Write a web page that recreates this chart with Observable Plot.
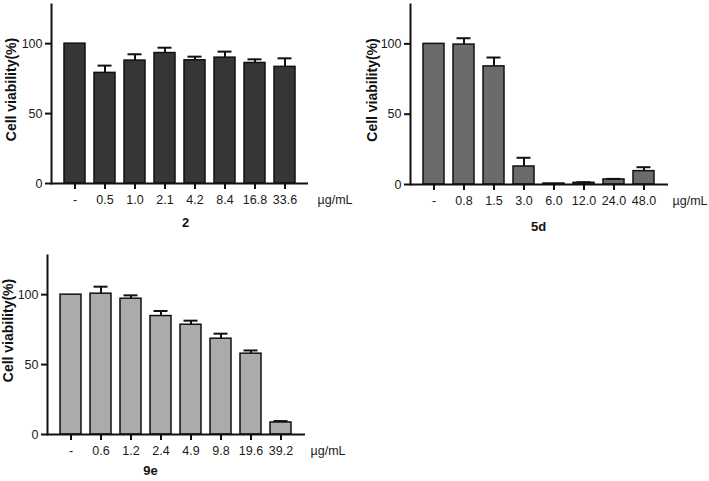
<!DOCTYPE html>
<html>
<head>
<meta charset="utf-8">
<script src="https://cdn.jsdelivr.net/npm/d3@7"></script>
<script src="https://cdn.jsdelivr.net/npm/@observablehq/plot@0.6"></script>
<style>
  html, body { margin: 0; padding: 0; background: #fff; }
  #wrap { position: relative; width: 709px; height: 481px; overflow: hidden; background: #fff; }
  #wrap svg { position: absolute; }
</style>
</head>
<body>
<div id="wrap"></div>
<script>
const yLabel = "Cell viability(%)";
const unitLabel = "µg/mL";
const yTicks = [0, 50, 100];

const conc2 = ["-", "0.5", "1.0", "2.1", "4.2", "8.4", "16.8", "33.6"];
const via2 = [100, 79.1, 87.9, 93.3, 88.1, 90.0, 86.2, 83.4];
const err2 = [0, 5.2, 4.5, 3.8, 2.6, 4.3, 2.6, 6.1];

const conc5d = ["-", "0.8", "1.5", "3.0", "6.0", "12.0", "24.0", "48.0"];
const via5d = [100, 99.5, 84.0, 12.8, 0.7, 1.2, 3.6, 9.5];
const err5d = [0, 4.5, 6.3, 6.2, 0, 0.4, 0.4, 2.8];

const conc9e = ["-", "0.6", "1.2", "2.4", "4.9", "9.8", "19.6", "39.2"];
const via9e = [100, 100.7, 97.1, 84.7, 78.5, 68.5, 57.8, 8.6];
const err9e = [0, 5.0, 2.4, 3.6, 2.9, 3.6, 2.3, 1.0];

function panel(o) {
  const data = o.cats.map((c, i) => ({c, v: o.vals[i], e: o.errs[i]}));
  const errData = data.filter(d => d.e > 0);
  const svg = Plot.plot({
    width: o.W, height: o.H,
    marginLeft: o.ml, marginRight: o.mr, marginTop: o.mt, marginBottom: o.mb,
    style: {fontFamily: "'Liberation Sans', Arial, sans-serif", fontSize: "12px", color: "#111", background: "transparent", overflow: "visible"},
    x: {domain: o.cats, paddingInner: 0.29, paddingOuter: 0.31},
    y: {domain: [0, 128]},
    marks: [
      Plot.barY(data, {x: "c", y: "v", fill: o.fill, stroke: "#111", strokeWidth: 1.5}),
      Plot.ruleX(errData, {x: "c", y1: "v", y2: d => d.v + d.e, stroke: "#111", strokeWidth: 2}),
      Plot.tickY(errData, {x: "c", y: d => d.v + d.e, stroke: "#111", strokeWidth: 2, insetLeft: 3.5, insetRight: 3.5}),
      Plot.axisX({tickSize: 6, tickPadding: 6, strokeWidth: 2, label: null, fontSize: 12.5, fill: "#1a1a1a"}),
      Plot.axisY({ticks: yTicks, tickSize: 6, tickPadding: 3, strokeWidth: 2, label: null, fontSize: 12.5, fill: "#1a1a1a"}),
      Plot.frame({anchor: "left", stroke: "#111", strokeWidth: 2}),
      Plot.ruleY([0], {stroke: "#111", strokeWidth: 2}),
      Plot.text([unitLabel], {text: d => d, frameAnchor: "bottom-right", textAnchor: "start", lineAnchor: "middle", dx: o.unitDx, dy: 16, fontSize: 12.5, fill: "#1a1a1a"}),
      Plot.text([o.name], {text: d => d, frameAnchor: "bottom", textAnchor: "middle", lineAnchor: "middle", dx: o.nameDx, dy: o.nameDy, fontWeight: "bold", fontSize: 13, fill: "#111"}),
      Plot.text([yLabel], {text: d => d, frameAnchor: "left", textAnchor: "middle", lineAnchor: "middle", rotate: -90, dx: o.ylDx, dy: o.ylDy, fontWeight: "bold", fontSize: 14, fill: "#111"})
    ]
  });
  svg.style.left = o.left + "px";
  svg.style.top = o.top + "px";
  return svg;
}

const wrap = document.getElementById("wrap");
wrap.appendChild(panel({cats: conc2, vals: via2, errs: err2, fill: "#363636", name: "2",
  left: 0, top: 0, W: 355, H: 235, ml: 51, mr: 47, mt: 4, mb: 52,
  unitDx: 9, nameDx: 5.5, nameDy: 39, ylDx: -40, ylDy: -4.5}));
wrap.appendChild(panel({cats: conc5d, vals: via5d, errs: err5d, fill: "#6b6b6b", name: "5d",
  left: 355, top: 0, W: 354, H: 235, ml: 55, mr: 41, mt: 4, mb: 51,
  unitDx: 4, nameDx: -1, nameDy: 42, ylDx: -38, ylDy: -4.5}));
wrap.appendChild(panel({cats: conc9e, vals: via9e, errs: err9e, fill: "#ababab", name: "9e",
  left: 0, top: 240, W: 355, H: 241, ml: 47, mr: 50, mt: 15, mb: 47,
  unitDx: 5, nameDx: -26, nameDy: 36, ylDx: -39, ylDy: -14.5}));
</script>
</body>
</html>
